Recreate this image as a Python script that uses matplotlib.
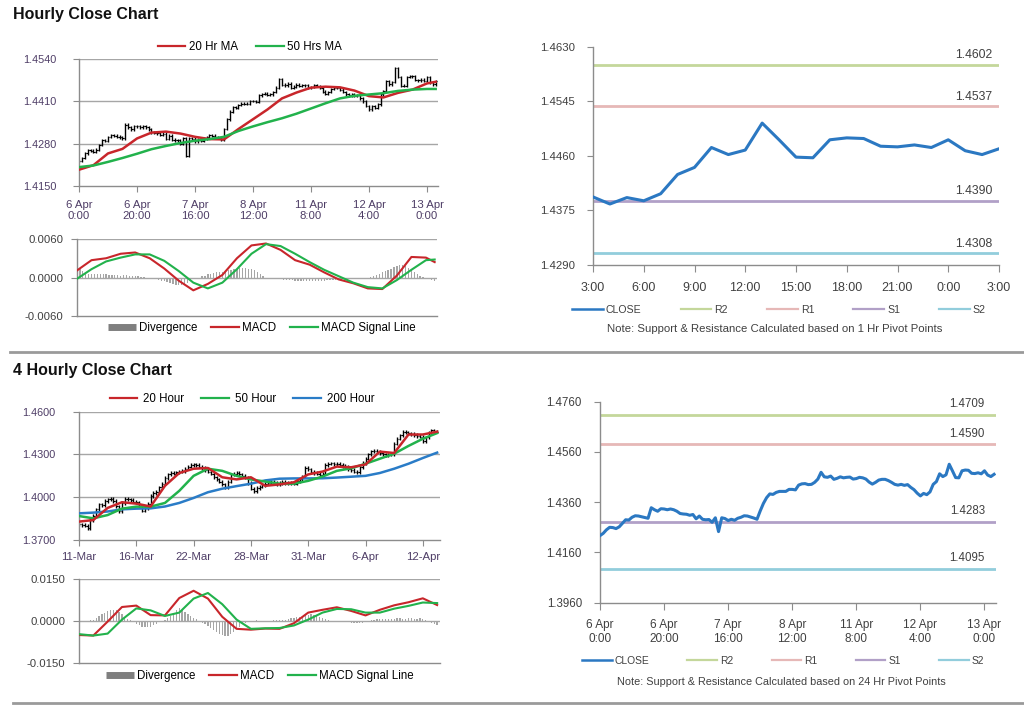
import numpy as np
import matplotlib
matplotlib.use('Agg')
import matplotlib.pyplot as plt
from matplotlib.lines import Line2D

plt.rcParams['font.family'] = ['Liberation Sans', 'DejaVu Sans']

# ---------------- DATA ----------------
# Hourly close, 6 Apr 0:00 -> 13 Apr 3:00 (124 hourly bars)
hourly_close = [
    1.4227, 1.4236, 1.4250, 1.4260, 1.4259, 1.4255, 1.4262, 1.4276, 1.4290, 1.4289,
    1.4300, 1.4306, 1.4305, 1.4302, 1.4299, 1.4296, 1.4338, 1.4330, 1.4324, 1.4334,
    1.4333, 1.4330, 1.4333, 1.4330, 1.4324, 1.4315, 1.4313, 1.4312, 1.4308, 1.4311,
    1.4294, 1.4305, 1.4292, 1.4290, 1.4291, 1.4280, 1.4298, 1.4243, 1.4298, 1.4295,
    1.4287, 1.4292, 1.4288, 1.4296, 1.4300, 1.4306, 1.4305, 1.4301, 1.4297, 1.4292,
    1.4325, 1.4355, 1.4378, 1.4393, 1.4391, 1.4399, 1.4403, 1.4403, 1.4403, 1.4411,
    1.4411, 1.4409, 1.4428, 1.4433, 1.4434, 1.4430, 1.4431, 1.4439, 1.4452, 1.4479,
    1.4461, 1.4459, 1.4464, 1.4451, 1.4455, 1.4461, 1.4457, 1.4459, 1.4460, 1.4452,
    1.4454, 1.4459, 1.4457, 1.4452, 1.4440, 1.4432, 1.4439, 1.4448, 1.4451, 1.4451,
    1.4446, 1.4439, 1.4431, 1.4428, 1.4431, 1.4427, 1.4430, 1.4419, 1.4410, 1.4396,
    1.4385, 1.4395, 1.4390, 1.4401, 1.4431, 1.4442, 1.4473, 1.4462, 1.4469, 1.4511,
    1.4485, 1.4458, 1.4457, 1.4485, 1.4488, 1.4487, 1.4475, 1.4474, 1.4477, 1.4473,
    1.4485, 1.4468, 1.4462, 1.4471,
]
hourly_ticklabels = ['6 Apr\n0:00', '6 Apr\n20:00', '7 Apr\n16:00', '8 Apr\n12:00',
                     '11 Apr\n8:00', '12 Apr\n4:00', '13 Apr\n0:00']
hourly_sample = list(range(0, 121, 5)) + [123]
hourly_ma20 = [1.4200, 1.4214, 1.4250, 1.4264, 1.4296, 1.4314, 1.4317, 1.4311, 1.4301,
               1.4294, 1.4293, 1.4325, 1.4355, 1.4385, 1.4419, 1.4437, 1.4452, 1.4455,
               1.4453, 1.4443, 1.4426, 1.4422, 1.4436, 1.4446, 1.4465, 1.4470]
hourly_ma50 = [1.4208, 1.4213, 1.4224, 1.4236, 1.4249, 1.4263, 1.4273, 1.4282, 1.4289,
               1.4294, 1.4301, 1.4319, 1.4333, 1.4346, 1.4358, 1.4372, 1.4388, 1.4404,
               1.4419, 1.4427, 1.4431, 1.4435, 1.4442, 1.4446, 1.4448, 1.4448]
hourly_macd = [0.0011, 0.0027, 0.0030, 0.0037, 0.0039, 0.0030, 0.0014, -0.0005, -0.0020,
               -0.0010, 0.0004, 0.0030, 0.0050, 0.0053, 0.0043, 0.0027, 0.0020, 0.0008,
               -0.0003, -0.0009, -0.0017, -0.0018, 0.0003, 0.0032, 0.0031, 0.0024]
hourly_signal = [-0.0002, 0.0013, 0.0025, 0.0031, 0.0036, 0.0036, 0.0026, 0.0010, -0.0008,
                 -0.0017, -0.0008, 0.0013, 0.0037, 0.0052, 0.0049, 0.0037, 0.0024, 0.0012,
                 0.0002, -0.0008, -0.0015, -0.0017, -0.0004, 0.0012, 0.0027, 0.0028]
hourly_div_e4 = [
    12, 14, 10, 7, 6, 6, 5, 5, 5, 5,
    5, 4, 4, 4, 4, 3, 4, 4, 3, 3,
    2, 2, 1, 1, 0, -1, -2, -3, -4, -5,
    -6, -7, -9, -10, -11, -12, -11, -10, -8, -5,
    -3, -1, 0, 2, 3, 5, 6, 7, 8, 8,
    9, 10, 11, 12, 13, 14, 15, 15, 15, 14,
    13, 11, 8, 5, 2, 0, -1, -2, -3, -3,
    -3, -4, -4, -4, -4, -5, -5, -5, -5, -5,
    -5, -5, -5, -5, -5, -5, -4, -4, -4, -4,
    -4, -4, -3, -3, -3, -2, -2, -2, -1, -1,
    0, 1, 2, 4, 6, 8, 10, 12, 14, 16,
    18, 19, 20, 18, 15, 12, 9, 6, 3, 1,
    -2, -3, -4, -5,
]

# 1 Hr pivot chart (12 Apr 3:00 -> 13 Apr 3:00)
pivot1_labels = ['3:00', '6:00', '9:00', '12:00', '15:00', '18:00', '21:00', '0:00', '3:00']
pivot1_levels = {'R2': 1.4602, 'R1': 1.4537, 'S1': 1.4390, 'S2': 1.4308}
pivot24_levels = {'R2': 1.4709, 'R1': 1.4590, 'S1': 1.4283, 'S2': 1.4095}

# 4-hourly close (126 bars)
h4_close = [
    1.3810, 1.3805, 1.3800, 1.3785, 1.3840, 1.3870, 1.3915, 1.3950, 1.3945, 1.3975,
    1.3985, 1.3990, 1.3975, 1.3935, 1.3900, 1.3960, 1.3990, 1.3985, 1.3980, 1.3970,
    1.3965, 1.3935, 1.3905, 1.3925, 1.3955, 1.4010, 1.4030, 1.4040, 1.4070, 1.4095,
    1.4135, 1.4160, 1.4170, 1.4165, 1.4175, 1.4180, 1.4185, 1.4200, 1.4215, 1.4225,
    1.4230, 1.4225, 1.4215, 1.4205, 1.4190, 1.4180, 1.4165, 1.4140, 1.4125, 1.4110,
    1.4090, 1.4070, 1.4110, 1.4160, 1.4165, 1.4170, 1.4160, 1.4150, 1.4140, 1.4100,
    1.4060, 1.4045, 1.4065, 1.4075, 1.4085, 1.4095, 1.4100, 1.4110, 1.4105, 1.4090,
    1.4100, 1.4110, 1.4100, 1.4095, 1.4100, 1.4095, 1.4115, 1.4125, 1.4145, 1.4205,
    1.4195, 1.4180, 1.4170, 1.4165, 1.4155, 1.4165, 1.4225, 1.4235, 1.4238, 1.4230,
    1.4232, 1.4226, 1.4220, 1.4212, 1.4195, 1.4190, 1.4180, 1.4178, 1.4210, 1.4240,
    1.4270, 1.4300, 1.4322, 1.4325, 1.4318, 1.4308, 1.4300, 1.4295, 1.4298, 1.4300,
    1.4375, 1.4410, 1.4435, 1.4460, 1.4455, 1.4448, 1.4445, 1.4436, 1.4430, 1.4425,
    1.4395, 1.4420, 1.4450, 1.4470, 1.4462, 1.4460,
]
h4_ticklabels = ['11-Mar', '16-Mar', '22-Mar', '28-Mar', '31-Mar', '6-Apr', '12-Apr']
h4_sample = list(range(0, 126, 5))
h4_ma20 = [1.3829, 1.3840, 1.3925, 1.3965, 1.3955, 1.3935, 1.4080, 1.4170, 1.4200, 1.4205,
           1.4140, 1.4125, 1.4140, 1.4080, 1.4090, 1.4105, 1.4160, 1.4180, 1.4215, 1.4210,
           1.4230, 1.4320, 1.4310, 1.4440, 1.4440, 1.4460]
h4_ma50 = [1.3868, 1.3852, 1.3875, 1.3920, 1.3934, 1.3934, 1.3960, 1.4045, 1.4150, 1.4200,
           1.4185, 1.4150, 1.4125, 1.4110, 1.4095, 1.4095, 1.4115, 1.4145, 1.4185, 1.4203,
           1.4235, 1.4270, 1.4305, 1.4360, 1.4410, 1.4450]
h4_ma200 = [1.3887, 1.3892, 1.3900, 1.3915, 1.3920, 1.3922, 1.3935, 1.3960, 1.3995, 1.4035,
            1.4060, 1.4078, 1.4095, 1.4118, 1.4130, 1.4132, 1.4132, 1.4133, 1.4138, 1.4144,
            1.4150, 1.4170, 1.4200, 1.4235, 1.4275, 1.4313]
h4_macd = [-0.0050, -0.0052, -0.0002, 0.0050, 0.0055, 0.0021, 0.0020, 0.0082, 0.0108, 0.0080,
           0.0015, -0.0028, -0.0031, -0.0027, -0.0028, -0.0008, 0.0030, 0.0040, 0.0049, 0.0036,
           0.0020, 0.0040, 0.0056, 0.0067, 0.0081, 0.0057]
h4_signal = [-0.0047, -0.0052, -0.0045, 0.0005, 0.0045, 0.0038, 0.0018, 0.0030, 0.0080, 0.0100,
             0.0060, 0.0005, -0.0028, -0.0026, -0.0025, -0.0016, 0.0005, 0.0030, 0.0043, 0.0042,
             0.0030, 0.0030, 0.0044, 0.0054, 0.0066, 0.0064]
h4_div_e4 = [
    -5, -4, -3, -2, 2, 5, 10, 18, 25, 30,
    35, 38, 40, 38, 33, 25, 15, 8, 2, -4,
    -10, -15, -20, -23, -23, -20, -15, -10, -5, 0,
    5, 10, 18, 28, 38, 45, 40, 32, 25, 18,
    12, 6, 0, -6, -12, -18, -25, -32, -40, -46,
    -50, -52, -52, -48, -40, -30, -20, -12, -6, -2,
    0, 1, 2, 1, 0, -1, 0, 1, 2, 2,
    3, 4, 5, 7, 9, 11, 13, 15, 18, 20,
    22, 24, 22, 18, 14, 10, 6, 3, 1, 0,
    -1, -2, -3, -4, -5, -6, -7, -8, -8, -6,
    -3, 0, 3, 5, 6, 7, 7, 6, 6, 7,
    8, 9, 9, 8, 8, 9, 9, 8, 8, 9,
    8, 5, 0, -6, -10, -14,
]

# ---------------- STYLE ----------------
RED = '#c8262b'
GREEN = '#22b24c'
BLUE = '#2a7cc7'
CLOSE_BLUE = '#2b78c2'
GRID = '#a6a6a6'
SPINE = '#8c8c8c'
DIVC = '#a6a6a6'
LEVEL_COL = {'R2': '#c4d79b', 'R1': '#e6b8b7', 'S1': '#b1a0c7', 'S2': '#92cddc'}
TXT = '#404040'
PURP = '#4e3d66'

W, H = 1024, 706
fig = plt.figure(figsize=(W / 100, H / 100), dpi=100)


def add_ax(x0, y0, x1, y1):
    return fig.add_axes([x0 / W, 1 - y1 / H, (x1 - x0) / W, (y1 - y0) / H])


def fig_xy(x, y):
    return (x / W, 1 - y / H)


def base_spines(ax):
    for s in ('top', 'right'):
        ax.spines[s].set_visible(False)
    for s in ('left', 'bottom'):
        ax.spines[s].set_color(SPINE)
        ax.spines[s].set_linewidth(1.0)


def left_panel(ax, yticks, fmt, ypad, ysize, ycolor):
    base_spines(ax)
    ax.set_ylim(yticks[0], yticks[-1])
    ax.set_yticks(yticks)
    ax.set_yticklabels([fmt.format(t) for t in yticks], fontsize=ysize, color=ycolor)
    for t in yticks[1:]:
        ax.axhline(t, color=GRID, lw=1.0, zorder=0)
    ax.tick_params(axis='y', length=4, color=SPINE, pad=ypad)


def draw_bars(ax, close, wick):
    c = np.asarray(close)
    o = np.concatenate([[c[0]], c[:-1]])
    x = np.arange(len(c))
    hi = np.maximum(o, c) + wick
    lo = np.minimum(o, c) - wick
    ax.vlines(x, lo, hi, color='black', lw=1.0, zorder=2)
    ax.hlines(o, x - 0.45, x, color='black', lw=0.8, zorder=2)
    ax.hlines(c, x, x + 0.45, color='black', lw=0.8, zorder=2)


def leg_line(color, lw=1.6):
    return Line2D([], [], color=color, lw=lw)


def div_handle():
    return Line2D([], [], color='#7f7f7f', lw=5, solid_capstyle='butt')


# ---------- titles ----------
fig.text(13 / W, 1 - 15 / H, 'Hourly Close Chart', fontsize=11.5, fontweight='bold',
         va='center', ha='left', color='#111111')
fig.text(13 / W, 1 - 370 / H, '4 Hourly Close Chart', fontsize=11.5, fontweight='bold',
         va='center', ha='left', color='#111111')

# separators
fig.add_artist(Line2D([10 / W, 1.0], [1 - 352 / H] * 2, color='#9a9a9a', lw=2.0))
fig.add_artist(Line2D([13 / W, 1.0], [1 - 702.5 / H] * 2, color='#9a9a9a', lw=2.0))

# ---------- Hourly price panel ----------
nh = len(hourly_close)
ax1 = add_ax(79, 59, 438, 186)
left_panel(ax1, [1.4150, 1.4280, 1.4410, 1.4540], '{:.4f}', 12, 7.8, PURP)
draw_bars(ax1, hourly_close, 0.0004)
ax1.plot(hourly_sample, hourly_ma20, color=RED, lw=1.8, zorder=3)
ax1.plot(hourly_sample, hourly_ma50, color=GREEN, lw=1.8, zorder=3)
ax1.set_xlim(0, nh - 0.2)
ax1.set_xticks(range(0, 121, 20))
ax1.set_xticklabels(hourly_ticklabels, fontsize=8.2, color=PURP, linespacing=1.15)
ax1.tick_params(axis='x', length=4, color=SPINE, pad=6)
fig.legend([leg_line(RED), leg_line(GREEN)], ['20 Hr MA', '50 Hrs MA'],
           loc='center', bbox_to_anchor=fig_xy(250, 47), ncol=2, frameon=False,
           fontsize=8.3, handlelength=2.4, handletextpad=0.3, columnspacing=1.6)

# ---------- Hourly MACD panel ----------
ax2 = add_ax(77, 239, 437, 316)
left_panel(ax2, [-0.0060, 0.0000, 0.0060], '{:.4f}', 6, 8.2, TXT)
ax2.bar(range(nh), np.array(hourly_div_e4) * 1e-4, width=0.45, color=DIVC, zorder=1)
ax2.plot(hourly_sample, hourly_macd, color=RED, lw=1.5, zorder=3)
ax2.plot(hourly_sample, hourly_signal, color=GREEN, lw=1.5, zorder=3)
ax2.set_xlim(0, nh - 0.2)
ax2.set_xticks([])
fig.legend([div_handle(), leg_line(RED), leg_line(GREEN)],
           ['Divergence', 'MACD', 'MACD Signal Line'],
           loc='center', bbox_to_anchor=fig_xy(262, 328), ncol=3, frameon=False,
           fontsize=8.3, handlelength=2.4, handletextpad=0.3, columnspacing=1.2)


def right_panel(ax, yticks, levels, close, xticks, xlabels, xmax, lab_frac, lab_off,
                lab_size, ytick_size, xtick_size):
    base_spines(ax)
    ax.set_ylim(yticks[0], yticks[-1])
    ax.set_yticks(yticks)
    ax.set_yticklabels(['{:.4f}'.format(t) for t in yticks], fontsize=ytick_size, color=TXT)
    ax.tick_params(axis='y', length=4, color=SPINE, pad=9)
    for name, val in levels.items():
        ax.axhline(val, color=LEVEL_COL[name], lw=2.0, zorder=1)
        ax.annotate('{:.4f}'.format(val), xy=(lab_frac, val),
                    xycoords=('axes fraction', 'data'), xytext=(0, lab_off),
                    textcoords='offset points', ha='right', va='center',
                    fontsize=lab_size, color=TXT)
    ax.plot(range(len(close)), close, color=CLOSE_BLUE, lw=2.2, zorder=3)
    ax.set_xlim(0, xmax)
    ax.set_xticks(xticks)
    ax.set_xticklabels(xlabels, fontsize=xtick_size, color=TXT, linespacing=1.15)
    ax.tick_params(axis='x', length=5, color=SPINE, pad=7)


def right_legend(cx, cy, note, nx, ny, size, note_size):
    handles = [leg_line(CLOSE_BLUE, 1.8)] + [leg_line(LEVEL_COL[k], 1.6) for k in
                                             ('R2', 'R1', 'S1', 'S2')]
    fig.legend(handles, ['CLOSE', 'R2', 'R1', 'S1', 'S2'], loc='center',
               bbox_to_anchor=fig_xy(cx, cy), ncol=5, frameon=False, fontsize=size,
               handlelength=2.9, handletextpad=0.3, columnspacing=3.7,
               labelcolor=TXT)
    fig.text(nx / W, 1 - ny / H, note, fontsize=note_size, ha='center', va='center',
             color=TXT)


# ---------- 1 Hr pivot panel ----------
close_1h = hourly_close[99:]
ax3 = add_ax(593, 46.7, 999, 265)
right_panel(ax3, [1.4290, 1.4375, 1.4460, 1.4545, 1.4630], pivot1_levels, close_1h,
            list(range(0, 25, 3)), pivot1_labels, 24, 0.983, 7, 8.8, 8.2, 9.0)
right_legend(779, 310, 'Note: Support & Resistance Calculated based on 1 Hr Pivot Points',
             775, 329, 7.6, 8.2)

# ---------- 4 Hourly price panel ----------
n4 = len(h4_close)
ax4 = add_ax(79, 411.7, 440, 540)
left_panel(ax4, [1.3700, 1.4000, 1.4300, 1.4600], '{:.4f}', 13, 7.8, PURP)
draw_bars(ax4, h4_close, 0.0012)
ax4.plot(h4_sample, h4_ma200, color=BLUE, lw=1.8, zorder=3)
ax4.plot(h4_sample, h4_ma50, color=GREEN, lw=1.8, zorder=3)
ax4.plot(h4_sample, h4_ma20, color=RED, lw=1.8, zorder=3)
ax4.set_xlim(0, n4 - 0.0)
ax4.set_xticks(range(0, 121, 20))
ax4.set_xticklabels(h4_ticklabels, fontsize=8.2, color=PURP)
ax4.tick_params(axis='x', length=4, color=SPINE, pad=5)
fig.legend([leg_line(RED), leg_line(GREEN), leg_line(BLUE)],
           ['20 Hour', '50 Hour', '200 Hour'],
           loc='center', bbox_to_anchor=fig_xy(242, 399), ncol=3, frameon=False,
           fontsize=8.3, handlelength=2.4, handletextpad=0.5, columnspacing=1.5)

# ---------- 4 Hourly MACD panel ----------
ax5 = add_ax(79, 579, 440, 663)
left_panel(ax5, [-0.0150, 0.0000, 0.0150], '{:.4f}', 6, 8.2, TXT)
ax5.bar(range(n4), np.array(h4_div_e4) * 1e-4, width=0.45, color=DIVC, zorder=1)
ax5.plot(h4_sample, h4_macd, color=RED, lw=1.5, zorder=3)
ax5.plot(h4_sample, h4_signal, color=GREEN, lw=1.5, zorder=3)
ax5.set_xlim(0, n4 - 0.0)
ax5.set_xticks([])
fig.legend([div_handle(), leg_line(RED), leg_line(GREEN)],
           ['Divergence', 'MACD', 'MACD Signal Line'],
           loc='center', bbox_to_anchor=fig_xy(260, 676), ncol=3, frameon=False,
           fontsize=8.3, handlelength=2.4, handletextpad=0.3, columnspacing=1.2)

# ---------- 24 Hr pivot panel ----------
ax6 = add_ax(600, 401.7, 996, 602.7)
right_panel(ax6, [1.3960, 1.4160, 1.4360, 1.4560, 1.4760], pivot24_levels, hourly_close,
            list(range(0, 121, 20)), hourly_ticklabels, nh - 0.4, 0.972, 7.5, 8.3, 8.3, 8.5)
right_legend(783, 661, 'Note: Support & Resistance Calculated based on 24 Hr Pivot Points',
             781, 682, 7.4, 7.8)

fig.savefig('out.png', dpi=100, facecolor='white')
